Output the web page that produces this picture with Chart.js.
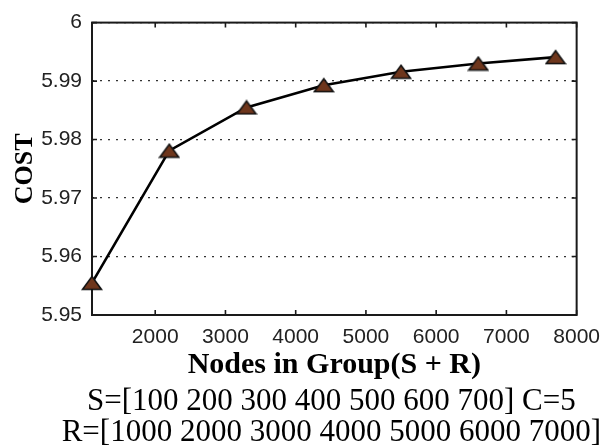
<!DOCTYPE html>
<html>
<head>
<meta charset="utf-8">
<script src="https://cdn.jsdelivr.net/npm/chart.js@4/dist/chart.umd.min.js"></script>
<style>
  html, body { margin: 0; padding: 0; background: #fff; }
  #wrap { width: 610px; height: 446px; }
</style>
</head>
<body>
<div id="wrap"><canvas id="costChart" width="610" height="446"></canvas></div>
<script>
// values
const nodes = [1100, 2200, 3300, 4400, 5500, 6600, 7700];
const cost = [5.9555, 5.9781, 5.9855, 5.9893, 5.9916, 5.9930, 5.9941];
const xTicks = [2000, 3000, 4000, 5000, 6000, 7000, 8000];
const yTicks = [5.95, 5.96, 5.97, 5.98, 5.99, 6.00];
const xTitle = 'Nodes in Group(S + R)';
const noteLines = ['S=[100 200 300 400 500 600 700] C=5', 'R=[1000 2000 3000 4000 5000 6000 7000]'];

// flat brown triangle marker like the matlab '^'
function triangleMarker() {
  const c = document.createElement('canvas');
  c.width = 22; c.height = 16;
  const g = c.getContext('2d');
  g.beginPath();
  g.moveTo(1.5, 14.5);
  g.lineTo(20.5, 14.5);
  g.lineTo(11, 1.5);
  g.closePath();
  g.fillStyle = '#6e361c';
  g.fill();
  g.lineWidth = 1.6;
  g.strokeStyle = '#111';
  g.stroke();
  return c;
}

// box around the plot + inward tick marks
const framePlugin = {
  id: 'frame',
  beforeDatasetsDraw(chart) {
    const { ctx, chartArea: a, scales } = chart;
    ctx.save();
    ctx.strokeStyle = '#1a1a1a';
    ctx.lineWidth = 1.6;
    ctx.beginPath();
    xTicks.forEach(v => {
      const px = scales.x.getPixelForValue(v);
      ctx.moveTo(px, a.bottom); ctx.lineTo(px, a.bottom - 5);
      ctx.moveTo(px, a.top); ctx.lineTo(px, a.top + 5);
    });
    yTicks.forEach(v => {
      const py = scales.y.getPixelForValue(v);
      ctx.moveTo(a.left, py); ctx.lineTo(a.left + 5, py);
      ctx.moveTo(a.right, py); ctx.lineTo(a.right - 5, py);
    });
    ctx.stroke();
    ctx.lineWidth = 2;
    ctx.strokeRect(a.left, a.top, a.right - a.left, a.bottom - a.top);
    ctx.restore();
  }
};

// the two parameter lines under the axis title, centred on the plot
const notesPlugin = {
  id: 'notes',
  afterDraw(chart) {
    const { ctx, chartArea: a } = chart;
    const cx = (a.left + a.right) / 2 - 3;
    ctx.save();
    ctx.fillStyle = '#000';
    ctx.font = '31px "Liberation Serif"';
    ctx.textAlign = 'center';
    ctx.textBaseline = 'alphabetic';
    noteLines.forEach((t, i) => ctx.fillText(t, cx, a.bottom + 95 + i * 31));
    ctx.restore();
  }
};

const ctx = document.getElementById('costChart').getContext('2d');
new Chart(ctx, {
  type: 'line',
  data: {
    datasets: [{
      data: nodes.map((n, i) => ({ x: n, y: cost[i] })),
      borderColor: '#000',
      borderWidth: 2.6,
      pointStyle: triangleMarker(),
      tension: 0,
      clip: false
    }]
  },
  options: {
    responsive: false,
    animation: false,
    events: [],
    layout: { padding: { top: 18, right: 23, left: 0, bottom: 65 } },
    plugins: {
      legend: { display: false },
      tooltip: { enabled: false }
    },
    scales: {
      x: {
        type: 'linear',
        min: 1100,
        max: 8000,
        afterBuildTicks: s => { s.ticks = xTicks.map(v => ({ value: v })); },
        afterFit: s => { s.height = 66; },
        grid: { display: false, drawTicks: false },
        border: { display: false },
        ticks: {
          padding: 10,
          color: '#222',
          font: { family: 'Liberation Sans', size: 21 },
          callback: v => String(v)
        },
        title: {
          display: true,
          text: xTitle,
          color: '#000',
          font: { family: 'Liberation Serif', size: 30, weight: 'bold', lineHeight: 1.05 },
          padding: { top: 0, bottom: 0 }
        }
      },
      y: {
        min: 5.95,
        max: 6,
        afterBuildTicks: s => { s.ticks = yTicks.map(v => ({ value: v })); },
        afterFit: s => { s.width = 92; },
        grid: { color: '#333', lineWidth: 1.3, drawTicks: false },
        border: { display: false, dash: [2, 6] },
        ticks: {
          padding: 10,
          color: '#222',
          font: { family: 'Liberation Sans', size: 21 },
          callback: v => String(Number(v.toFixed(2)))
        },
        title: {
          display: true,
          text: 'COST',
          color: '#000',
          font: { family: 'Liberation Serif', size: 26, weight: 'bold', lineHeight: 1.2 },
          padding: { top: 10, bottom: 0 }
        }
      }
    }
  },
  plugins: [framePlugin, notesPlugin]
});
</script>
</body>
</html>
